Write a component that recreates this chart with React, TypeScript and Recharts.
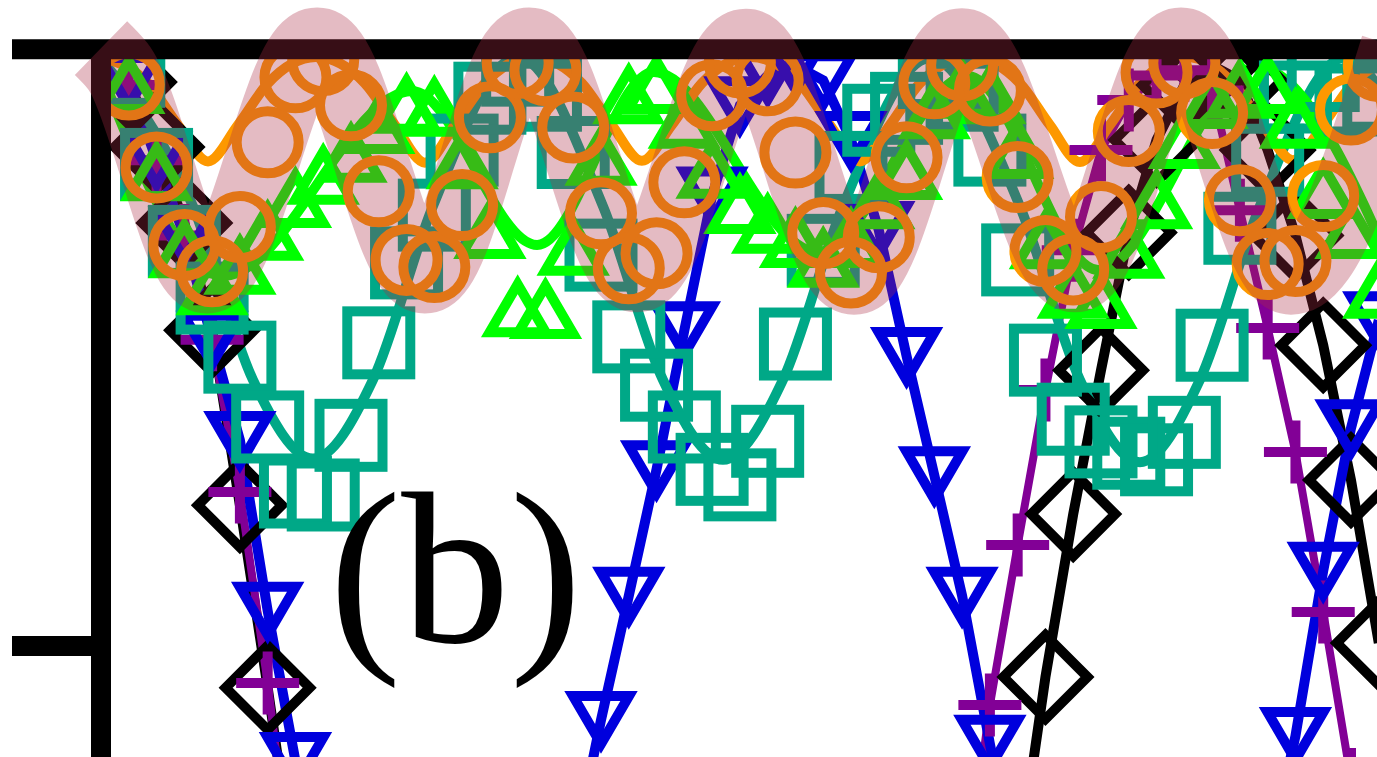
import { ComposedChart, Line, XAxis, YAxis, ReferenceLine } from 'recharts'

// sample index shared by every measured series
const steps = Array.from({ length: 46 }, (_, i) => i + 1)

// measured points, one value per step
const circleVals = [
  0.941, 0.802, 0.672, 0.628, 0.702, 0.844, 0.953, 0.982, 0.906, 0.762,
  0.647, 0.635, 0.739, 0.886, 0.977, 0.965, 0.869, 0.725, 0.633, 0.658,
  0.777, 0.923, 0.978, 0.948, 0.827, 0.692, 0.626, 0.685, 0.819, 0.943,
  0.973, 0.931, 0.786, 0.662, 0.631, 0.719, 0.863, 0.961, 0.977, 0.893,
  0.747, 0.640, 0.645, 0.754, 0.899, 0.972,
]
const squareVals = [
  0.963, 0.807, 0.678, 0.583, 0.484, 0.367, 0.258, 0.253, 0.353, 0.508,
  0.642, 0.722, 0.831, 0.918, 0.965, 0.923, 0.827, 0.655, 0.518, 0.437,
  0.367, 0.296, 0.270, 0.343, 0.506, 0.663, 0.802, 0.881, 0.901, 0.961,
  0.923, 0.831, 0.647, 0.479, 0.380, 0.342, 0.323, 0.312, 0.358, 0.504,
  0.700, 0.814, 0.920, 0.956, 0.915, 0.923,
]
const triUpVals = [
  0.940, 0.794, 0.665, 0.603, 0.637, 0.694, 0.749, 0.788, 0.825, 0.873,
  0.907, 0.902, 0.814, 0.697, 0.566, 0.563, 0.669, 0.820, 0.923, 0.940,
  0.882, 0.798, 0.739, 0.706, 0.682, 0.649, 0.682, 0.747, 0.796, 0.898,
  0.932, 0.923, 0.831, 0.680, 0.597, 0.580, 0.664, 0.747, 0.848, 0.915,
  0.932, 0.940, 0.882, 0.764, 0.697, 0.597,
]
const triDownVals = [
  0.945, 0.814, 0.688, 0.513, 0.345, 0.059, -0.193, -0.43, -0.6, -0.74,
  -0.84, -0.88, -0.87, -0.8, -0.68, -0.52, -0.35, -0.124, 0.084, 0.296,
  0.529, 0.755, 0.906, 0.956, 0.973, 0.948, 0.848, 0.697, 0.486, 0.286,
  0.084, -0.164, -0.4, -0.58, -0.72, -0.82, -0.87, -0.87, -0.8, -0.68,
  -0.52, -0.36, -0.151, 0.126, 0.365, 0.546,
]
const plusVals = [
  0.94, 0.814, 0.688, 0.513, 0.258, -0.062, -0.44, -0.75, -0.93, -0.99,
  -1, -1, -1, -1, -1, -1, -1, -1, -1, -1,
  -1, -1, -1, -1, -1, -1, -1, -0.99, -0.94, -0.78,
  -0.46, -0.099, 0.169, 0.429, 0.663, 0.831, 0.915, 0.956, 0.965, 0.931,
  0.73, 0.533, 0.325, 0.057, -0.224, -0.476,
]
const diamondVals = [
  0.945, 0.836, 0.709, 0.529, 0.236, -0.07, -0.39, -0.68, -0.88, -0.97,
  -1, -1, -1, -1, -1, -1, -1, -1, -1, -1,
  -1, -1, -1, -1, -1, -1, -1, -1, -1, -0.96,
  -0.88, -0.68, -0.375, -0.052, 0.221, 0.462, 0.693, 0.848, 0.94, 0.973,
  0.948, 0.831, 0.688, 0.504, 0.278, 0.005,
]

// fitted curves as [x, y] pairs
const orangeFit: [number, number][] = [
  [0, 0.987], [1.69, 0.943], [2.77, 0.873], [3.85, 0.812], [4.93, 0.873], [6.01, 0.943],
  [7.74, 0.987], [9.5, 0.943], [10.58, 0.873], [11.66, 0.81], [12.74, 0.873], [13.82, 0.943],
  [15.55, 0.987], [17.31, 0.943], [18.39, 0.873], [19.47, 0.813], [20.55, 0.873], [21.63, 0.943],
  [23.4, 0.987], [25.16, 0.943], [26.24, 0.873], [27.32, 0.812], [28.4, 0.873], [29.48, 0.943],
  [31.28, 0.987], [33.08, 0.943], [34.16, 0.873], [35.24, 0.811], [36.32, 0.873], [37.4, 0.943],
  [39.09, 0.987], [40.75, 0.943], [41.83, 0.873], [42.91, 0.814], [43.99, 0.873], [45.07, 0.943],
  [46.76, 0.987],
]
const tealFit: [number, number][] = [
  [0, 0.984], [3.31, 0.737], [5.47, 0.446], [7.63, 0.314], [9.79, 0.446], [11.95, 0.737],
  [15.0, 0.987], [18.07, 0.737], [20.23, 0.446], [22.39, 0.312], [24.55, 0.446], [26.71, 0.737],
  [29.84, 0.985], [33.08, 0.737], [35.24, 0.446], [37.4, 0.308], [39.56, 0.446], [41.72, 0.737],
  [44.78, 0.986], [46.8, 0.869],
]
const greenFit: [number, number][] = [
  [0, 0.96], [4.4, 0.62], [11.2, 0.93], [15.7, 0.672], [19.9, 0.962],
  [25.8, 0.66], [31.2, 0.955], [35.9, 0.63], [41.6, 0.97], [46.8, 0.6],
]
const bandFit: [number, number][] = [
  [0, 1.002], [0.6, 0.972], [3.82, 0.62], [7.78, 1.007], [11.66, 0.62], [15.41, 1.007],
  [19.29, 0.622], [23.22, 1.005], [27.11, 0.618], [30.99, 1.006], [35.06, 0.622],
  [38.88, 1.007], [42.84, 0.618], [46.69, 1.004],
]

const ORANGE = '#fd9800'
const TEAL = '#00a887'
const LIME = '#00ff00'
const BLUE = '#0000dd'
const PURPLE = '#820096'
const BAND = '#ac2c45'

const rows = (vals: number[]) => steps.map((x, i) => ({ x, y: vals[i] }))
const pairs = (pts: [number, number][]) => pts.map(([x, y]) => ({ x, y }))

type DotArgs = { cx?: number; cy?: number; index?: number }

const ring = (color: string) => ({ cx = 0, cy = 0, index }: DotArgs) => (
  <circle key={`o${index}`} cx={cx} cy={cy} r={31} fill="none" stroke={color} strokeWidth={10} />
)
const box = (color: string) => ({ cx = 0, cy = 0, index }: DotArgs) => (
  <rect key={`s${index}`} x={cx - 31.5} y={cy - 31.5} width={63} height={63}
        fill="none" stroke={color} strokeWidth={10} />
)
const triUp = (color: string) => ({ cx = 0, cy = 0, index }: DotArgs) => (
  <path key={`u${index}`} d={`M${cx},${cy - 24}L${cx + 28},${cy + 24}L${cx - 28},${cy + 24}Z`}
        fill="none" stroke={color} strokeWidth={10} />
)
const triDown = (color: string) => ({ cx = 0, cy = 0, index }: DotArgs) => (
  <path key={`v${index}`} d={`M${cx},${cy + 24}L${cx + 28},${cy - 24}L${cx - 28},${cy - 24}Z`}
        fill="none" stroke={color} strokeWidth={10} />
)
const diamond = (color: string) => ({ cx = 0, cy = 0, index }: DotArgs) => (
  <path key={`d${index}`} d={`M${cx},${cy - 42}L${cx + 42},${cy}L${cx},${cy + 42}L${cx - 42},${cy}Z`}
        fill="none" stroke={color} strokeWidth={10} />
)
const plus = (color: string) => ({ cx = 0, cy = 0, index }: DotArgs) => (
  <path key={`p${index}`} d={`M${cx - 31.5},${cy}H${cx + 31.5}M${cx},${cy - 31.5}V${cy + 31.5}`}
        fill="none" stroke={color} strokeWidth={10} />
)

const X_DOMAIN: [number, number] = [0, 46.8]
const Y_DOMAIN: [number, number] = [-0.5, 1.01]

// every measured series sits on the clipped "main" axes
const common = { xAxisId: 'main', yAxisId: 'main', dataKey: 'y', activeDot: false, isAnimationActive: false } as const

export default function App() {
  return (
    <div style={{ position: 'fixed', left: 0, top: 0, width: 1377, height: 757, overflow: 'hidden', background: '#fff' }}>
      <ComposedChart width={1401} height={944.3} margin={{ top: 43.3, right: 0, bottom: 0, left: 0 }}>
        <XAxis xAxisId="main" type="number" dataKey="x" domain={X_DOMAIN} allowDataOverflow hide />
        <XAxis xAxisId="band" type="number" dataKey="x" domain={X_DOMAIN} hide />
        <YAxis yAxisId="band" type="number" domain={Y_DOMAIN} hide width={0} />

        <Line {...common} data={rows(diamondVals)} type="linear" stroke="#000"
              strokeWidth={10} dot={diamond('#000')} />
        <Line {...common} data={rows(plusVals)} type="linear" stroke={PURPLE}
              strokeWidth={8} dot={plus(PURPLE)} />
        <Line {...common} data={rows(triDownVals)} type="linear" stroke={BLUE}
              strokeWidth={10} dot={triDown(BLUE)} />

        <Line {...common} data={rows(squareVals)} stroke="none" dot={box(TEAL)} />
        <Line {...common} data={pairs(tealFit)} type="monotone" stroke={TEAL} strokeWidth={10} dot={false} />

        <Line {...common} data={rows(triUpVals)} stroke="none" dot={triUp(LIME)} />
        <Line {...common} data={pairs(greenFit)} type="monotone" stroke={LIME} strokeWidth={10} dot={false} />

        <Line {...common} data={rows(circleVals)} stroke="none" dot={ring(ORANGE)} />
        <Line {...common} data={pairs(orangeFit)} type="monotone" stroke={ORANGE} strokeWidth={10} dot={false} />

        <YAxis yAxisId="main" type="number" domain={Y_DOMAIN} allowDataOverflow width={101}
               ticks={[0, 1]} tickFormatter={() => ''} tickSize={89} zIndex={600}
               axisLine={{ stroke: '#000', strokeWidth: 20 }}
               tickLine={{ stroke: '#000', strokeWidth: 20 }} />
        <ReferenceLine xAxisId="main" yAxisId="main" y={1} stroke="#000" strokeWidth={20} zIndex={600} />

        <Line xAxisId="band" yAxisId="band" data={pairs(bandFit)} dataKey="y" type="monotone" stroke={BAND}
              strokeOpacity={0.32} strokeWidth={75} dot={false} activeDot={false}
              isAnimationActive={false} zIndex={900} />
      </ComposedChart>
      <svg width={1377} height={757} style={{ position: 'absolute', left: 0, top: 0, pointerEvents: 'none' }}>
        <text x={329} y={642} fontFamily="'Liberation Serif', 'Times New Roman', serif" fontSize={217} fill="#000">
          (b)
        </text>
      </svg>
    </div>
  )
}
